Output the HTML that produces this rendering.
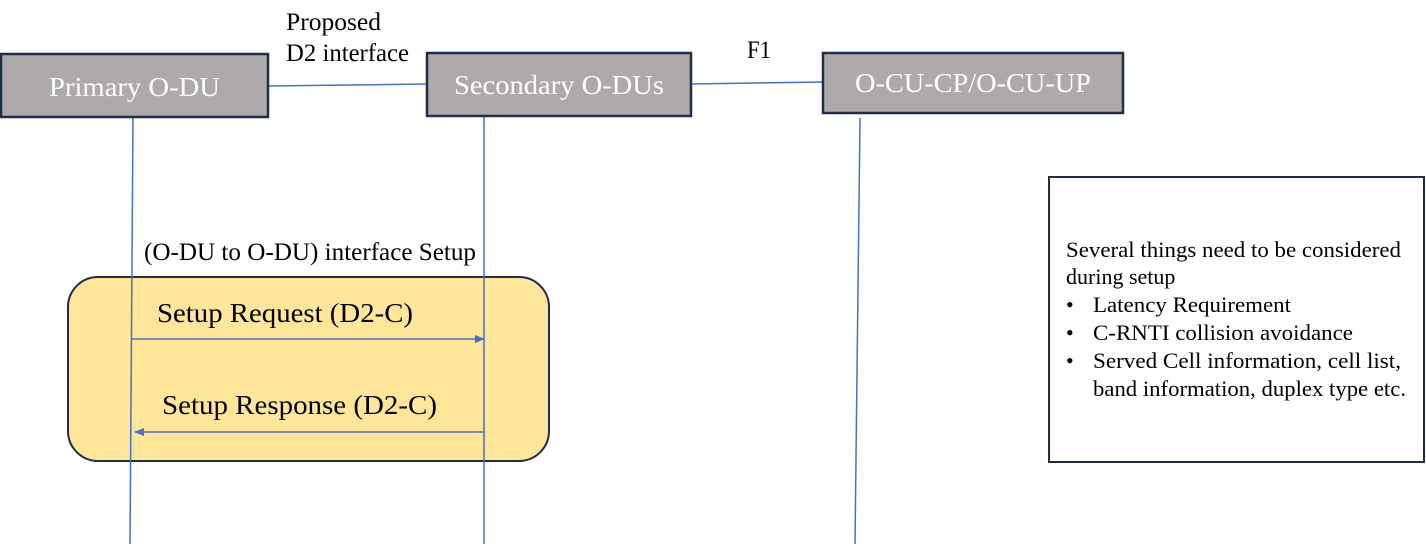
<!DOCTYPE html>
<html><head><style>body{margin:0;background:#fff}svg{display:block}text{font-family:"Liberation Serif",serif}</style></head>
<body>
<svg width="1426" height="544" viewBox="0 0 1426 544" xmlns="http://www.w3.org/2000/svg">
<defs><marker id="a" markerWidth="10" markerHeight="8" refX="9" refY="4" orient="auto" markerUnits="userSpaceOnUse"><path d="M0,0L10,4L0,8z" fill="#4472c4"/></marker></defs>
<g stroke="#4472c4" stroke-width="1.5" fill="none">
<line x1="268" y1="86" x2="427" y2="84"/>
<line x1="691" y1="84" x2="823" y2="82"/>
</g>
<rect x="68" y="277" width="481" height="184" rx="30" fill="#ffe699" stroke="#1f2d4a" stroke-width="2"/>
<g stroke="#4472c4" stroke-width="1.5" fill="none">
<line x1="133" y1="118" x2="130" y2="544"/>
<line x1="484" y1="117" x2="484" y2="544"/>
<line x1="860" y1="118" x2="855" y2="544"/>
<line x1="132" y1="339" x2="484" y2="339" marker-end="url(#a)"/>
<line x1="484" y1="432" x2="135" y2="432" marker-end="url(#a)"/>
</g>
<g fill="#aeaaaa" stroke="#1f2d4a" stroke-width="2.5">
<rect x="1" y="54" width="267" height="63"/>
<rect x="427" y="53" width="264" height="63"/>
<rect x="823" y="53" width="300" height="60"/>
</g>
<g fill="#fff" font-size="27" lengthAdjust="spacingAndGlyphs">
<text x="49" y="96" textLength="171" lengthAdjust="spacingAndGlyphs">Primary  O-DU</text>
<text x="454" y="94" textLength="210" lengthAdjust="spacingAndGlyphs">Secondary  O-DUs</text>
<text x="855" y="92" textLength="236" lengthAdjust="spacingAndGlyphs">O-CU-CP/O-CU-UP</text>
</g>
<g fill="#000" font-size="25">
<text x="286" y="30" textLength="95" lengthAdjust="spacingAndGlyphs">Proposed</text>
<text x="286" y="61" textLength="123" lengthAdjust="spacingAndGlyphs">D2 interface</text>
<text x="747" y="58" textLength="24" lengthAdjust="spacingAndGlyphs">F1</text>
<text x="144" y="260" textLength="332" lengthAdjust="spacingAndGlyphs">(O-DU to O-DU) interface  Setup</text>
<text x="157" y="322" font-size="27" textLength="256" lengthAdjust="spacingAndGlyphs">Setup Request (D2-C)</text>
<text x="162" y="414" font-size="27" textLength="275" lengthAdjust="spacingAndGlyphs">Setup Response (D2-C)</text>
</g>
<rect x="1049" y="177" width="375" height="285" fill="#fff" stroke="#1f2d4a" stroke-width="2"/>
<g fill="#000" font-size="22">
<text x="1066" y="257" textLength="335" lengthAdjust="spacingAndGlyphs">Several things need to be considered</text>
<text x="1066" y="284">during setup</text>
<text x="1066" y="312">•</text><text x="1093" y="312" textLength="198" lengthAdjust="spacingAndGlyphs">Latency Requirement</text>
<text x="1066" y="340">•</text><text x="1093" y="340" textLength="260" lengthAdjust="spacingAndGlyphs">C-RNTI collision avoidance</text>
<text x="1066" y="368">•</text><text x="1093" y="368" textLength="308" lengthAdjust="spacingAndGlyphs">Served Cell information, cell list,</text>
<text x="1093" y="396" textLength="313" lengthAdjust="spacingAndGlyphs">band information, duplex type etc.</text>
</g>
</svg>
</body></html>
